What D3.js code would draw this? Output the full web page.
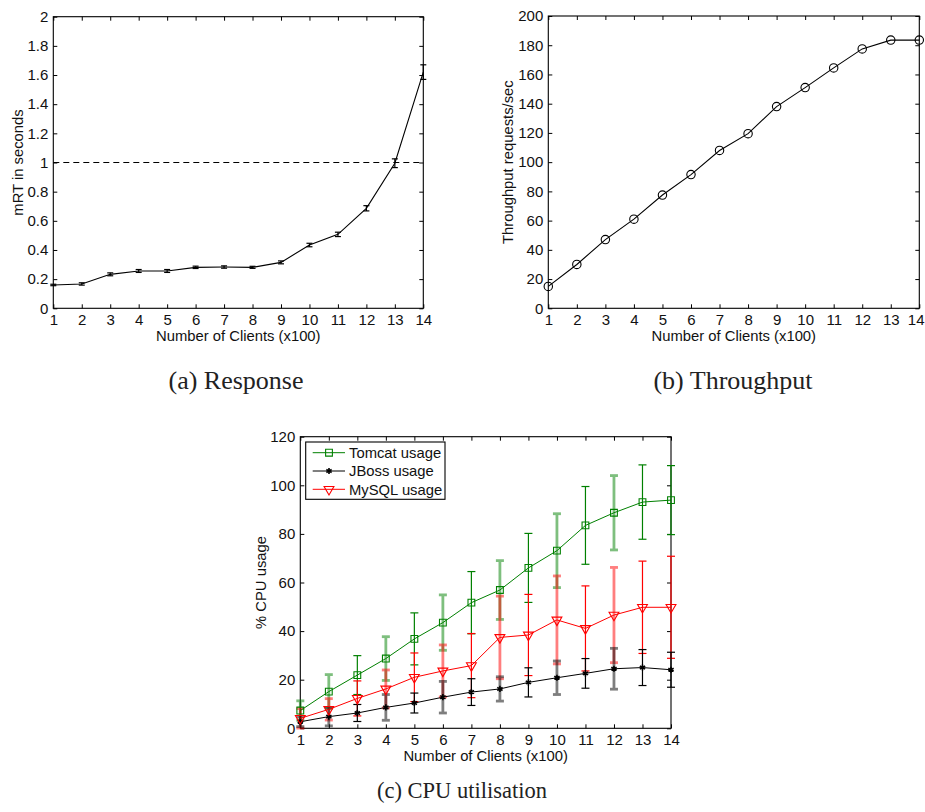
<!DOCTYPE html>
<html>
<head>
<meta charset="utf-8">
<script src="https://cdn.jsdelivr.net/npm/d3@7"></script>
<style>
  html, body { margin: 0; padding: 0; background: #fff; }
  svg { display: block; }
  .tick text { font-family: "Liberation Sans", Arial, sans-serif; font-size: 15px; fill: #111; }
  .title { font-family: "Liberation Sans", Arial, sans-serif; font-size: 14.8px; fill: #111; }
  .caption { font-family: "Liberation Serif", "DejaVu Serif", serif; fill: #222; }
</style>
</head>
<body>
<svg id="fig" width="925" height="812"></svg>
<script>
// ---- data -------------------------------------------------------------
const clients = [1, 2, 3, 4, 5, 6, 7, 8, 9, 10, 11, 12, 13, 14];

// (a) mean response time (s) with error
const responseTime = [0.16, 0.167, 0.233, 0.256, 0.256, 0.281, 0.283, 0.281, 0.315, 0.434, 0.507, 0.686, 0.995, 1.62];
const responseErr  = [0.005, 0.008, 0.01, 0.01, 0.01, 0.008, 0.008, 0.007, 0.01, 0.012, 0.015, 0.018, 0.03, 0.05];
const responseLimit = 1;

// (b) throughput (requests/sec)
const throughput = [15, 30, 47, 61, 77.5, 91.5, 108, 119.5, 138, 151, 164.5, 177.5, 183.5, 183.5];

// (c) CPU usage (%) with error
const cpuTomcat    = [7.3, 15.1, 21.9, 28.7, 36.8, 43.5, 51.7, 56.9, 66.0, 73.1, 83.5, 88.7, 93.1, 93.9];
const cpuTomcatErr = [4, 7, 8, 9, 10.7, 11.4, 12.8, 12.1, 14.2, 15.2, 16, 15.3, 15.3, 14.2];
const cpuJBoss     = [2.7, 4.8, 6.3, 8.6, 10.4, 12.8, 14.9, 16.2, 18.9, 20.8, 22.6, 24.5, 25.0, 24.1];
const cpuJBossErr  = [2, 3.8, 3.5, 5.3, 4.1, 6.5, 5.5, 5, 6, 6.9, 6.1, 8.4, 7.4, 7.2];
const cpuMySQL     = [4.1, 7.8, 12.3, 16.2, 21.0, 23.6, 25.8, 37.4, 38.4, 44.6, 41.1, 46.6, 49.8, 49.8];
const cpuMySQLErr  = [4, 4.4, 7.2, 7.8, 10, 10.7, 13.2, 17, 16.7, 18.1, 17.5, 19.6, 19, 21];

const seriesNames = ["Tomcat usage", "JBoss usage", "MySQL usage"];

// tick values and labels
const rtTicks  = [0, 0.2, 0.4, 0.6, 0.8, 1, 1.2, 1.4, 1.6, 1.8, 2];
const rtLabels = ["0", "0.2", "0.4", "0.6", "0.8", "1", "1.2", "1.4", "1.6", "1.8", "2"];
const tpTicks  = [0, 20, 40, 60, 80, 100, 120, 140, 160, 180, 200];
const cpuTicks = [0, 20, 40, 60, 80, 100, 120];

const xTitle = "Number of Clients (x100)";

// ---- drawing helpers ----------------------------------------------------
const svg = d3.select("#fig");
const pageWidth = +svg.attr("width");

function makePanel(box, yDomain, yTicks, yLabels) {
  const x = d3.scaleLinear().domain([1, 14]).range([box.left, box.right]);
  const y = d3.scaleLinear().domain(yDomain).range([box.bottom, box.top]);
  const g = svg.append("g");
  const fmt = yLabels ? (d, i) => yLabels[i] : d3.format("d");

  // outer box
  g.append("rect")
    .attr("x", box.left).attr("y", box.top)
    .attr("width", box.right - box.left).attr("height", box.bottom - box.top)
    .attr("fill", "none").attr("stroke", "#000").attr("stroke-width", 1.1);

  const tickStyle = sel => {
    sel.select(".domain").remove();
    sel.selectAll(".tick line").attr("stroke", "#000").attr("stroke-width", 1);
  };
  const plainText = s => s.selectAll(".tick text").attr("font-size", null).attr("font-family", null);

  g.append("g").attr("transform", `translate(0,${box.bottom})`)
    .call(d3.axisBottom(x).tickValues(clients).tickFormat(d3.format("d"))
      .tickSizeInner(-4).tickSizeOuter(0).tickPadding(6))
    .call(tickStyle)
    .call(plainText)
    // keep a label that would run past the page edge inside it
    .call(s => s.selectAll(".tick text").each(function (d) {
      const bb = this.getBBox(), cx = x(d);
      if (cx + bb.width / 2 > pageWidth - 1) {
        d3.select(this).attr("text-anchor", "end").attr("x", pageWidth - 1 - cx);
      }
    }));
  g.append("g").attr("transform", `translate(0,${box.top})`)
    .call(d3.axisTop(x).tickValues(clients).tickFormat("").tickSizeInner(-4).tickSizeOuter(0))
    .call(tickStyle);
  g.append("g").attr("transform", `translate(${box.left},0)`)
    .call(d3.axisLeft(y).tickValues(yTicks).tickFormat(fmt)
      .tickSizeInner(-4).tickSizeOuter(0).tickPadding(5))
    .call(tickStyle)
    .call(plainText);
  g.append("g").attr("transform", `translate(${box.right},0)`)
    .call(d3.axisRight(y).tickValues(yTicks).tickFormat("").tickSizeInner(-4).tickSizeOuter(0))
    .call(tickStyle);

  // axis titles
  g.append("text").attr("class", "title")
    .attr("x", (box.left + box.right) / 2).attr("y", box.bottom + 33)
    .attr("text-anchor", "middle").text(xTitle);
  g.append("text").attr("class", "title")
    .attr("transform", `translate(${box.yTitleX},${(box.top + box.bottom) / 2}) rotate(-90)`)
    .attr("text-anchor", "middle").attr("dy", "0.35em").text(box.yTitle);

  return { g, x, y };
}

// error bars; with `softAlt` every other bar is drawn wider and lighter
function errorBars(p, values, errs, color, cap, softAlt) {
  const eg = p.g.append("g");
  const n = values.length;
  values.forEach((v, i) => {
    const cx = p.x(clients[i]);
    const soft = softAlt && i < n - 1 && (i === 0 || i % 2 === 1);
    const w = soft ? 2.8 : 1.2;
    const op = soft ? 0.5 : 1;
    const yMin = p.y.domain()[0];
    const yTop = p.y(v + errs[i]), yBot = p.y(Math.max(v - errs[i], yMin));
    const s = eg.append("g").attr("stroke", color).attr("stroke-width", w).attr("opacity", op);
    s.append("line").attr("x1", cx).attr("x2", cx).attr("y1", yTop).attr("y2", yBot);
    s.append("line").attr("x1", cx - cap).attr("x2", cx + cap).attr("y1", yTop).attr("y2", yTop);
    if (v - errs[i] >= yMin)
      s.append("line").attr("x1", cx - cap).attr("x2", cx + cap).attr("y1", yBot).attr("y2", yBot);
  });
}

function seriesLine(p, values, color, width) {
  p.g.append("path")
    .datum(values)
    .attr("fill", "none").attr("stroke", color).attr("stroke-width", width || 1)
    .attr("d", d3.line().x((d, i) => p.x(clients[i])).y(d => p.y(d)));
}

// ---- (a) Response -------------------------------------------------------
const pa = makePanel({ left: 53.3, right: 423.3, top: 16.7, bottom: 308.3,
  yTitle: "mRT in seconds", yTitleX: 17.5 }, [0, 2], rtTicks, rtLabels);
pa.g.append("line")
  .attr("x1", pa.x(1)).attr("x2", pa.x(14))
  .attr("y1", pa.y(responseLimit)).attr("y2", pa.y(responseLimit))
  .attr("stroke", "#000").attr("stroke-width", 1).attr("stroke-dasharray", "6,4");
errorBars(pa, responseTime, responseErr, "#000", 3, false);
seriesLine(pa, responseTime, "#000", 1.1);

// ---- (b) Throughput -----------------------------------------------------
const pb = makePanel({ left: 548.3, right: 919.3, top: 16, bottom: 308.3,
  yTitle: "Throughput requests/sec", yTitleX: 507.5 }, [0, 200], tpTicks, null);
seriesLine(pb, throughput, "#000", 1.1);
pb.g.selectAll("circle.pt").data(throughput).join("circle")
  .attr("class", "pt")
  .attr("cx", (d, i) => pb.x(clients[i])).attr("cy", d => pb.y(d))
  .attr("r", 4.2).attr("fill", "none").attr("stroke", "#000").attr("stroke-width", 1.1);

// ---- (c) CPU utilisation ------------------------------------------------
const pc = makePanel({ left: 300.3, right: 671, top: 436.7, bottom: 728.3,
  yTitle: "% CPU usage", yTitleX: 260.5 }, [0, 120], cpuTicks, null);

const green = "#008000", red = "#ff0000", black = "#000";
errorBars(pc, cpuTomcat, cpuTomcatErr, green, 4, true);
errorBars(pc, cpuMySQL, cpuMySQLErr, red, 4, true);
errorBars(pc, cpuJBoss, cpuJBossErr, black, 4, true);

const markers = [
  { values: cpuTomcat, color: green, type: d3.symbolSquare, size: 46, rot: 0 },
  { values: cpuJBoss,  color: black, type: d3.symbolAsterisk, size: 26, rot: 0 },
  { values: cpuMySQL,  color: red,   type: d3.symbolTriangle, size: 42, rot: 180 }
];
const symbolPath = (m) => d3.symbol().type(m.type).size(m.size)();

markers.forEach(m => {
  seriesLine(pc, m.values, m.color, 1);
  pc.g.append("g").selectAll("path").data(m.values).join("path")
    .attr("d", symbolPath(m))
    .attr("transform", (d, i) => `translate(${pc.x(clients[i])},${pc.y(d)}) rotate(${m.rot})`)
    .attr("fill", "none").attr("stroke", m.color).attr("stroke-width", m.type === d3.symbolAsterisk ? 1.6 : 1.1);
});

// legend
const lg = pc.g.append("g");
lg.append("rect").attr("x", 305.7).attr("y", 442).attr("width", 139.3).attr("height", 57.3)
  .attr("fill", "#fff").attr("stroke", "#000").attr("stroke-width", 1.1);
seriesNames.forEach((name, i) => {
  const m = markers[i];
  const yy = 452.7 + i * 18.3;
  lg.append("line").attr("x1", 312.7).attr("x2", 345).attr("y1", yy).attr("y2", yy)
    .attr("stroke", m.color).attr("stroke-width", 1);
  lg.append("path").attr("d", symbolPath(m))
    .attr("transform", `translate(329,${yy}) rotate(${m.rot})`)
    .attr("fill", "none").attr("stroke", m.color).attr("stroke-width", m.type === d3.symbolAsterisk ? 1.6 : 1.1);
  lg.append("text").attr("class", "title").attr("x", 349).attr("y", yy).attr("dy", "0.36em").text(name);
});

// ---- captions -----------------------------------------------------------
const captions = [
  { text: "(a) Response", x: 236, y: 389, size: 26 },
  { text: "(b) Throughput", x: 733, y: 389, size: 26 },
  { text: "(c) CPU utilisation", x: 462, y: 798, size: 22.5 }
];
svg.selectAll("text.caption").data(captions).join("text")
  .attr("class", "caption").attr("x", d => d.x).attr("y", d => d.y)
  .attr("font-size", d => d.size)
  .attr("text-anchor", "middle").text(d => d.text);
</script>
</body>
</html>
